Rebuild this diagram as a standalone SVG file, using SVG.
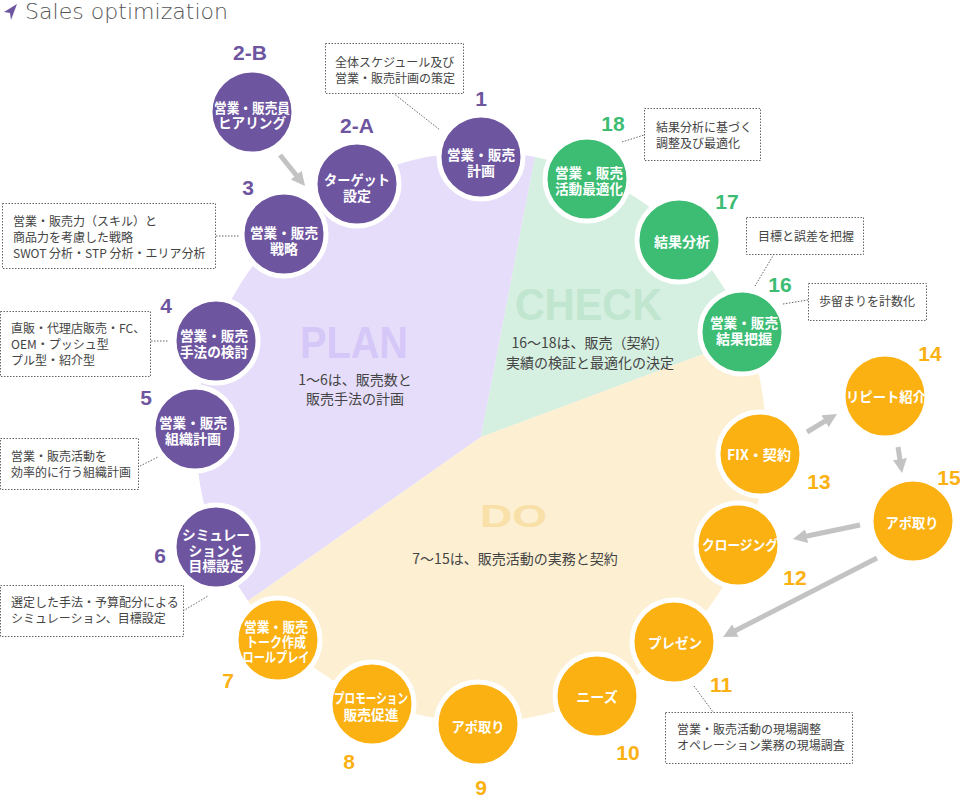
<svg xmlns="http://www.w3.org/2000/svg" width="960" height="800" viewBox="0 0 960 800">
<style>
.jp{font-family:"Noto Sans CJK JP","Liberation Sans",sans-serif}
.nt{font-family:"Noto Sans CJK JP","Liberation Sans",sans-serif;font-weight:bold;fill:#fff;font-size:14px;text-anchor:middle}
.num{font-family:"Liberation Sans","DejaVu Sans",sans-serif;font-weight:bold;font-size:21px;text-anchor:middle}
.np{fill:#6e55a0}.ng{fill:#3cbd73}.no{fill:#fbb112}
.cp{fill:#6e55a0;stroke:#fff;stroke-width:5}
.cg{fill:#3cbd73;stroke:#fff;stroke-width:5}
.co{fill:#fbb112;stroke:#fff;stroke-width:5}
.box{fill:#fff;stroke:#666;stroke-width:1;stroke-dasharray:1.5 1.5}
.lead{fill:none;stroke:#666;stroke-width:1;stroke-dasharray:1.5 1.5}
.bt{font-family:"Noto Sans CJK JP","Liberation Sans",sans-serif;font-size:12px;fill:#444}
.desc{font-family:"Noto Sans CJK JP","Liberation Sans",sans-serif;font-size:14px;fill:#444;text-anchor:middle}
.big{font-family:"Liberation Sans","DejaVu Sans",sans-serif;font-weight:bold}
.arr{stroke:#c3c3c3;stroke-width:5;fill:none;marker-end:url(#ah)}
</style>
<defs>
<marker id="ah" markerUnits="userSpaceOnUse" markerWidth="15" markerHeight="15" refX="2" refY="7" orient="auto">
<path d="M0,0 L14,7 L0,14 Z" fill="#c3c3c3"/>
</marker>
</defs>
<rect width="960" height="800" fill="#fff"/>
<g id="title">
<polygon points="17,4 4,12 10,13 11,20" fill="#6e55a0"/>
<text x="25" y="19" font-family="DejaVu Sans, sans-serif" font-weight="300" font-size="22" fill="#555" textLength="203" lengthAdjust="spacingAndGlyphs">Sales optimization</text>
</g>
<g id="sectors">
<path d="M481,437 L248,601 A285,285 0 0 1 535,157 Z" fill="#e6ddfa"/>
<path d="M481,437 L535,157 A285,285 0 0 1 748,337.5 Z" fill="#d5efe0"/>
<path d="M481,437 L748,337.5 A285,285 0 0 1 248,601 Z" fill="#fdefd2"/>
<text class="big" x="300" y="358" font-size="44" fill="#d5c7f7" textLength="108" lengthAdjust="spacingAndGlyphs">PLAN</text>
<text class="desc" x="355" y="385">1〜6は、販売数と</text>
<text class="desc" x="355" y="404">販売手法の計画</text>
<text class="big" x="515" y="320" font-size="44" fill="#c0e6cf" textLength="147" lengthAdjust="spacingAndGlyphs">CHECK</text>
<text class="desc" x="590" y="348">16〜18は、販売（契約）</text>
<text class="desc" x="590" y="368">実績の検証と最適化の決定</text>
<text class="big" x="480" y="527" font-size="31" fill="#f8e0a8" textLength="67" lengthAdjust="spacingAndGlyphs">DO</text>
<text class="desc" x="515" y="564">7〜15は、販売活動の実務と契約</text>
</g>
<g id="connectors">
<line class="arr" x1="280" y1="155" x2="297.5" y2="176.7"/>
<line class="arr" x1="807" y1="432" x2="826.7" y2="420.2"/>
<line class="arr" x1="898" y1="447" x2="900.2" y2="461.1"/>
<line class="arr" x1="860" y1="525" x2="804.7" y2="536.5"/>
<line class="arr" x1="877" y1="558" x2="733.7" y2="631.5"/>
<polyline class="lead" points="393,93 440,130"/>
<polyline class="lead" points="216,236 240,236"/>
<polyline class="lead" points="151,341 168,341"/>
<polyline class="lead" points="140,466 158,457"/>
<polyline class="lead" points="183,611 208,596"/>
<polyline class="lead" points="622,142 644,135"/>
<polyline class="lead" points="774,254 755,286"/>
<polyline class="lead" points="783,304 808,300"/>
<polyline class="lead" points="694,686 713,712"/>
</g>
<g id="callouts">
<rect class="box" x="325.5" y="43.5" width="138" height="50"/>
<text class="bt" x="335" y="67">全体スケジュール及び</text>
<text class="bt" x="335" y="83">営業・販売計画の策定</text>
<rect class="box" x="2.5" y="203.5" width="213" height="65"/>
<text class="bt" x="13" y="226">営業・販売力（スキル）と</text>
<text class="bt" x="13" y="242">商品力を考慮した戦略</text>
<text class="bt" x="13" y="258">SWOT 分析・STP 分析・エリア分析</text>
<rect class="box" x="0.5" y="311.5" width="150" height="65"/>
<text class="bt" x="11" y="333">直販・代理店販売・FC、</text>
<text class="bt" x="11" y="349">OEM・プッシュ型</text>
<text class="bt" x="11" y="365">プル型・紹介型</text>
<rect class="box" x="0.5" y="438.5" width="138" height="51"/>
<text class="bt" x="11" y="461">営業・販売活動を</text>
<text class="bt" x="11" y="477">効率的に行う組織計画</text>
<rect class="box" x="0.5" y="585.5" width="183" height="51"/>
<text class="bt" x="11" y="607">選定した手法・予算配分による</text>
<text class="bt" x="11" y="623">シミュレーション、目標設定</text>
<rect class="box" x="644.5" y="108.5" width="116" height="52"/>
<text class="bt" x="656" y="132">結果分析に基づく</text>
<text class="bt" x="656" y="148">調整及び最適化</text>
<rect class="box" x="746.5" y="217.5" width="117" height="37"/>
<text class="bt" x="758" y="241">目標と誤差を把握</text>
<rect class="box" x="808.5" y="283.5" width="118" height="37"/>
<text class="bt" x="819" y="306">歩留まりを計数化</text>
<rect class="box" x="665.5" y="712.5" width="187" height="51"/>
<text class="bt" x="677" y="734">営業・販売活動の現場調整</text>
<text class="bt" x="677" y="750">オペレーション業務の現場調査</text>
</g>
<g id="node-2B">
<circle class="cp" cx="252" cy="112" r="42"/>
<text class="nt" x="252" y="113" textLength="76" lengthAdjust="spacingAndGlyphs">営業・販売員</text>
<text class="nt" x="252" y="128" textLength="68" lengthAdjust="spacingAndGlyphs">ヒアリング</text>
<text class="num np" x="250" y="60" font-size="19">2-B</text>
</g>
<g id="node-3">
<circle class="cp" cx="284" cy="234" r="42"/>
<text class="nt" x="284" y="238" textLength="68" lengthAdjust="spacingAndGlyphs">営業・販売</text>
<text class="nt" x="284" y="254">戦略</text>
<text class="num np" x="248" y="195">3</text>
</g>
<g id="node-2A">
<circle class="cp" cx="357" cy="184" r="42"/>
<text class="nt" x="357" y="185" textLength="66" lengthAdjust="spacingAndGlyphs">ターゲット</text>
<text class="nt" x="357" y="201">設定</text>
<text class="num np" x="357" y="133" font-size="19">2-A</text>
</g>
<g id="node-1">
<circle class="cp" cx="481" cy="157" r="42"/>
<text class="nt" x="481" y="160" textLength="68" lengthAdjust="spacingAndGlyphs">営業・販売</text>
<text class="nt" x="481" y="176">計画</text>
<text class="num np" x="481" y="106">1</text>
</g>
<g id="node-4">
<circle class="cp" cx="216" cy="341" r="42"/>
<text class="nt" x="214" y="341" textLength="68" lengthAdjust="spacingAndGlyphs">営業・販売</text>
<text class="nt" x="214" y="357" textLength="68" lengthAdjust="spacingAndGlyphs">手法の検討</text>
<text class="num np" x="166" y="313">4</text>
</g>
<g id="node-5">
<circle class="cp" cx="195" cy="429" r="42"/>
<text class="nt" x="193" y="428" textLength="68" lengthAdjust="spacingAndGlyphs">営業・販売</text>
<text class="nt" x="193" y="444">組織計画</text>
<text class="num np" x="146" y="405">5</text>
</g>
<g id="node-6">
<circle class="cp" cx="216" cy="547" r="42"/>
<text class="nt" x="216" y="540" textLength="68" lengthAdjust="spacingAndGlyphs">シミュレー</text>
<text class="nt" x="216" y="556" textLength="55" lengthAdjust="spacingAndGlyphs">ションと</text>
<text class="nt" x="216" y="571" textLength="55" lengthAdjust="spacingAndGlyphs">目標設定</text>
<text class="num np" x="160" y="563">6</text>
</g>
<g id="node-7">
<circle class="co" cx="278" cy="640" r="42"/>
<text class="nt" x="276" y="632" font-size="13" textLength="64" lengthAdjust="spacingAndGlyphs">営業・販売</text>
<text class="nt" x="276" y="647" font-size="13" textLength="60" lengthAdjust="spacingAndGlyphs">トーク作成</text>
<text class="nt" x="276" y="662" font-size="13" textLength="67" lengthAdjust="spacingAndGlyphs">ロールプレイ</text>
<text class="num no" x="228" y="688">7</text>
</g>
<g id="node-8">
<circle class="co" cx="372" cy="704" r="42"/>
<text class="nt" x="371" y="703" font-size="11" textLength="74" lengthAdjust="spacingAndGlyphs">プロモーション</text>
<text class="nt" x="371" y="720" textLength="55" lengthAdjust="spacingAndGlyphs">販売促進</text>
<text class="num no" x="349" y="769">8</text>
</g>
<g id="node-9">
<circle class="co" cx="478" cy="724" r="42"/>
<text class="nt" x="478" y="732" textLength="53" lengthAdjust="spacingAndGlyphs">アポ取り</text>
<text class="num no" x="481" y="795">9</text>
</g>
<g id="node-10">
<circle class="co" cx="597" cy="696" r="42"/>
<text class="nt" x="597" y="702">ニーズ</text>
<text class="num no" x="628" y="760">10</text>
</g>
<g id="node-11">
<circle class="co" cx="674" cy="642" r="42"/>
<text class="nt" x="675" y="648" textLength="54" lengthAdjust="spacingAndGlyphs">プレゼン</text>
<text class="num no" x="721" y="692">11</text>
</g>
<g id="node-13">
<circle class="co" cx="760" cy="454" r="42"/>
<text class="nt" x="759" y="460" textLength="64" lengthAdjust="spacingAndGlyphs">FIX・契約</text>
<text class="num no" x="819" y="489">13</text>
</g>
<g id="node-12">
<circle class="co" cx="738" cy="545" r="42"/>
<text class="nt" x="740" y="550" font-size="13" textLength="76" lengthAdjust="spacingAndGlyphs">クロージング</text>
<text class="num no" x="795" y="585">12</text>
</g>
<g id="node-14">
<circle class="co" cx="885" cy="396" r="42"/>
<text class="nt" x="886" y="402" textLength="80" lengthAdjust="spacingAndGlyphs">リピート紹介</text>
<text class="num no" x="930" y="361">14</text>
</g>
<g id="node-15">
<circle class="co" cx="913" cy="521" r="42"/>
<text class="nt" x="912" y="528" textLength="53" lengthAdjust="spacingAndGlyphs">アポ取り</text>
<text class="num no" x="949" y="485">15</text>
</g>
<g id="node-16">
<circle class="cg" cx="742" cy="332" r="42"/>
<text class="nt" x="744" y="328" textLength="68" lengthAdjust="spacingAndGlyphs">営業・販売</text>
<text class="nt" x="744" y="344" textLength="56" lengthAdjust="spacingAndGlyphs">結果把握</text>
<text class="num ng" x="780" y="292">16</text>
</g>
<g id="node-17">
<circle class="cg" cx="679" cy="240" r="42"/>
<text class="nt" x="682" y="247" textLength="56" lengthAdjust="spacingAndGlyphs">結果分析</text>
<text class="num ng" x="727" y="209">17</text>
</g>
<g id="node-18">
<circle class="cg" cx="587" cy="179" r="42"/>
<text class="nt" x="589" y="178" textLength="68" lengthAdjust="spacingAndGlyphs">営業・販売</text>
<text class="nt" x="589" y="194" textLength="68" lengthAdjust="spacingAndGlyphs">活動最適化</text>
<text class="num ng" x="613" y="131">18</text>
</g>
</svg>
